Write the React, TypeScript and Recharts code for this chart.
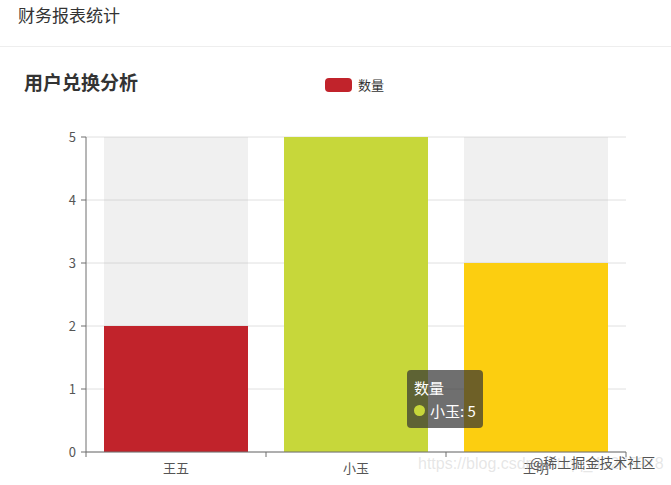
import React from 'react';
import { Bar, BarChart, CartesianGrid, Cell, Tooltip, XAxis, YAxis } from 'recharts';

const names = ['王五', '小玉', '王明'];
const counts = [2, 5, 3];
const barColors = ['#c1232b', '#c7d73a', '#fcce10'];
const yTicks = [0, 1, 2, 3, 4, 5];
const seriesName = '数量';

const data = names.map((name, i) => ({ name, value: counts[i] }));

const font = '"Noto Sans CJK SC", "Noto Sans", sans-serif';
const TICK_SIZE = 5;
const TICK_MARGIN = 6;

function CategoryTick(props: any) {
  const { x, y, payload, index, visibleTicksCount } = props;
  const half = payload.offset ?? 0;
  const top = y - TICK_SIZE - TICK_MARGIN;
  return (
    <g>
      <line x1={x - half} x2={x - half} y1={top} y2={top + TICK_SIZE} stroke="#6e6e6e" />
      {index === visibleTicksCount - 1 && (
        <line x1={x + half} x2={x + half} y1={top} y2={top + TICK_SIZE} stroke="#6e6e6e" />
      )}
      <text x={x} y={y} dy={10} textAnchor="middle" fill="#555" fontSize={13} fontFamily={font}>
        {payload.value}
      </text>
    </g>
  );
}

function TipContent({ active, payload }: any) {
  if (!active || !payload || !payload.length) return null;
  const item = payload[0];
  const idx = names.indexOf(item.payload.name);
  return (
    <div
      style={{
        background: 'rgba(50,50,50,0.7)',
        borderRadius: 4,
        padding: '6px 7px',
        color: '#fff',
        fontSize: 15,
        lineHeight: '23px',
        fontFamily: font,
        whiteSpace: 'nowrap',
      }}
    >
      <div>{seriesName}</div>
      <div style={{ display: 'flex', alignItems: 'center' }}>
        <span
          style={{
            display: 'inline-block',
            width: 11,
            height: 11,
            borderRadius: '50%',
            background: barColors[idx],
            marginRight: 5,
          }}
        />
        {item.payload.name}: {item.value}
      </div>
    </div>
  );
}

export default function App() {
  return (
    <div style={{ position: 'absolute', left: 0, top: 0, width: 671, height: 485, background: '#fff', fontFamily: font, overflow: 'hidden' }}>
      <div style={{ position: 'absolute', left: 18, top: 2, fontSize: 17, color: '#333' }}>财务报表统计</div>
      <div style={{ position: 'absolute', left: 0, right: 0, top: 46, height: 1, background: '#eeeeee' }} />
      <div style={{ position: 'absolute', left: 24, top: 68, fontSize: 19, fontWeight: 700, color: '#333' }}>用户兑换分析</div>
      <div style={{ position: 'absolute', left: 325, top: 75, display: 'flex', alignItems: 'center' }}>
        <span style={{ display: 'inline-block', width: 27, height: 14, borderRadius: 4, background: barColors[0] }} />
        <span style={{ marginLeft: 6, fontSize: 13, color: '#333' }}>{seriesName}</span>
      </div>

      <div style={{ position: 'absolute', left: 0, top: 0 }}>
        <BarChart
          width={671}
          height={485}
          data={data}
          barCategoryGap="10%"
          margin={{ top: 137, right: 45, left: 40, bottom: 8 }}
        >
          <CartesianGrid vertical={false} stroke="#e0e0e0" />
          <XAxis
            dataKey="name"
            height={25}
            axisLine={{ stroke: '#6e6e6e' }}
            tickLine={false}
            tickSize={TICK_SIZE}
            tickMargin={TICK_MARGIN}
            tick={<CategoryTick />}
            interval={0}
          />
          <YAxis
            width={46}
            domain={[0, 5]}
            ticks={yTicks}
            axisLine={{ stroke: '#6e6e6e' }}
            tickLine={{ stroke: '#6e6e6e' }}
            tickSize={TICK_SIZE}
            tickMargin={5}
            tick={{ fill: '#555', fontSize: 13, fontFamily: font }}
          />
          <Tooltip
            defaultIndex={1}
            cursor={false}
            position={{ x: 407, y: 370 }}
            content={<TipContent />}
            isAnimationActive={false}
            wrapperStyle={{ outline: 'none' }}
          />
          <Bar
            dataKey="value"
            name={seriesName}
            background={{ fill: 'rgba(180,180,180,0.2)' }}
            isAnimationActive={false}
          >
            {data.map((d, i) => (
              <Cell key={d.name} fill={barColors[i]} />
            ))}
          </Bar>
        </BarChart>
      </div>

      <div style={{ position: 'absolute', left: 418, top: 455, fontSize: 16, color: 'rgba(200,200,200,0.45)', fontFamily: '"Liberation Sans", sans-serif' }}>
        https://blog.csdn.net/qq_45275978
      </div>
      <div style={{ position: 'absolute', left: 530, top: 452, fontSize: 14, color: '#555', textShadow: '0 0 2px #fff' }}>
        @稀土掘金技术社区
      </div>
    </div>
  );
}
